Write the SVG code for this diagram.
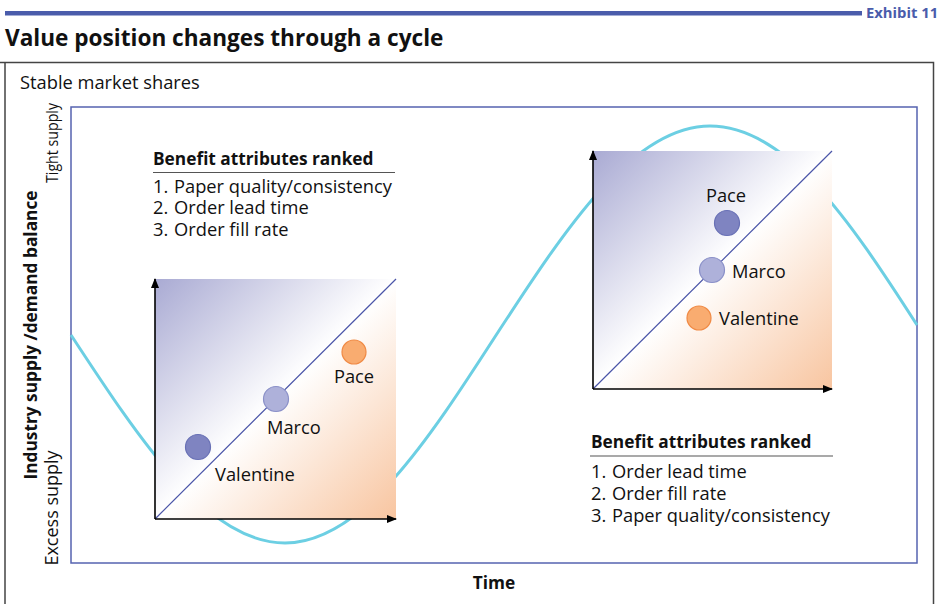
<svg xmlns="http://www.w3.org/2000/svg" width="943" height="604" viewBox="0 0 943 604">
<style>
text{font-family:"Open Sans","Noto Sans","Liberation Sans",sans-serif;fill:#111}
.b{font-weight:bold}
.t{font-size:18.3px}
.h{font-size:17.3px;font-weight:bold}
.ax{stroke:#000;stroke-width:1.6;fill:none}
.diag{stroke:#4b55a8;stroke-width:1.2}
.dark{fill:#7f84c1;stroke:#6870b5;stroke-width:1.2}
.light{fill:#aeb1da;stroke:#8a90c8;stroke-width:1.2}
.orange{fill:#f9ac70;stroke:#f08a45;stroke-width:1.2}
.rule{stroke:#555;stroke-width:1.2}
</style>
<defs>
<linearGradient id="g" x1="0" y1="0" x2="1" y2="1">
<stop offset="0" stop-color="#a9aad3"/>
<stop offset="0.5" stop-color="#ffffff"/>
<stop offset="1" stop-color="#f8c5a0"/>
</linearGradient>
<marker id="arr" viewBox="0 0 10 8" refX="9" refY="4" markerWidth="10" markerHeight="8" markerUnits="userSpaceOnUse" orient="auto">
<path d="M0,0 L10,4 L0,8 Z" fill="#000"/>
</marker>
</defs>
<g id="header">
<rect x="5" y="11" width="857" height="4.5" fill="#4a5cab"/>
<text x="866" y="17.5" class="b" style="font-size:14.8px;fill:#4a5cab">Exhibit 11</text>
<text x="5" y="46" class="b" style="font-size:22.6px">Value position changes through a cycle</text>
</g>
<g id="frame">
<path d="M0,62.5 H933.5 V604 M5,62.5 V604" stroke="#444" stroke-width="1.5" fill="none"/>
<text x="20" y="88.5" class="t">Stable market shares</text>
<rect x="71" y="107" width="846" height="456" fill="none" stroke="#5563b0" stroke-width="1.5"/>
</g>
<g id="axis-labels">
<text transform="translate(58,143) rotate(-90)" text-anchor="middle" style="font-size:17px" textLength="80" lengthAdjust="spacingAndGlyphs">Tight supply</text>
<text transform="translate(58,508) rotate(-90)" text-anchor="middle" style="font-size:18px">Excess supply</text>
<text transform="translate(37,335) rotate(-90)" text-anchor="middle" class="h">Industry supply /demand balance</text>
<text x="494" y="589" text-anchor="middle" class="h">Time</text>
</g>
<g id="cycle-curve">
<path d="M71,335 C140.8,441.6 207.5,543 285,543 C361.6,543 427.5,441.3 496.5,334.5 C566.1,227.7 632.7,126 710,126 C786,126 849,219 917,325" fill="none" stroke="#6ccfe3" stroke-width="3"/>
</g>
<g id="chart-trough">
<rect x="155" y="279" width="241" height="240" fill="url(#g)"/>
<line class="diag" x1="155" y1="519" x2="396" y2="279"/>
<line class="ax" x1="155" y1="519" x2="155" y2="279" marker-end="url(#arr)"/>
<line class="ax" x1="155" y1="519" x2="396" y2="519" marker-end="url(#arr)"/>
<circle class="dark" cx="198" cy="447" r="12.5"/>
<circle class="light" cx="276" cy="399" r="12.5"/>
<circle class="orange" cx="354" cy="352" r="12"/>
<text x="354" y="383" text-anchor="middle" class="t">Pace</text>
<text x="267" y="434" class="t">Marco</text>
<text x="215" y="481" class="t">Valentine</text>
</g>
<g id="chart-peak">
<rect x="593" y="151" width="239" height="238" fill="url(#g)"/>
<line class="diag" x1="593" y1="389" x2="832" y2="151"/>
<line class="ax" x1="593" y1="389" x2="593" y2="151" marker-end="url(#arr)"/>
<line class="ax" x1="593" y1="389" x2="832" y2="389" marker-end="url(#arr)"/>
<circle class="dark" cx="727" cy="223" r="12.5"/>
<circle class="light" cx="712" cy="270" r="12.5"/>
<circle class="orange" cx="699" cy="318" r="12"/>
<text x="726" y="202" text-anchor="middle" class="t">Pace</text>
<text x="732" y="278" class="t">Marco</text>
<text x="719" y="325" class="t">Valentine</text>
</g>
<g id="attributes-trough">
<text x="153" y="165" class="h">Benefit attributes ranked</text>
<line class="rule" x1="153" y1="172.5" x2="395" y2="172.5"/>
<text class="t" y="192.5"><tspan x="153">1.</tspan><tspan x="174">Paper quality/consistency</tspan></text>
<text class="t" y="214"><tspan x="153">2.</tspan><tspan x="174">Order lead time</tspan></text>
<text class="t" y="236"><tspan x="153">3.</tspan><tspan x="174">Order fill rate</tspan></text>
</g>
<g id="attributes-peak">
<text x="591" y="447.5" class="h">Benefit attributes ranked</text>
<line class="rule" x1="590" y1="456" x2="833" y2="456"/>
<text class="t" y="478"><tspan x="591">1.</tspan><tspan x="612">Order lead time</tspan></text>
<text class="t" y="500"><tspan x="591">2.</tspan><tspan x="612">Order fill rate</tspan></text>
<text class="t" y="521.5"><tspan x="591">3.</tspan><tspan x="612">Paper quality/consistency</tspan></text>
</g>
</svg>
